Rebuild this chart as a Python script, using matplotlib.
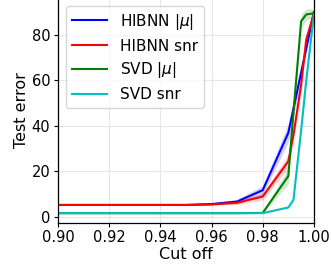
import numpy as np
import matplotlib
matplotlib.use("Agg")
import matplotlib.pyplot as plt

cutoff = [0.90, 0.91, 0.92, 0.93, 0.94, 0.95, 0.96, 0.97, 0.98, 0.99, 0.992, 0.995, 0.997, 1.0]

hibnn_mu = [5.3, 5.3, 5.3, 5.3, 5.3, 5.3, 5.7, 6.8, 11.8, 37.0, 47.5, 63.5, 74.0, 90.0]
hibnn_mu_sd = [0.1, 0.1, 0.1, 0.1, 0.1, 0.1, 0.3, 1.0, 2.0, 4.0, 4.0, 3.0, 2.0, 1.0]

hibnn_snr = [5.3, 5.3, 5.3, 5.3, 5.3, 5.3, 5.5, 6.3, 9.0, 24.5, 36.0, 58.0, 78.0, 89.5]
hibnn_snr_sd = [0.1, 0.1, 0.1, 0.1, 0.1, 0.1, 0.2, 0.8, 1.5, 3.0, 3.0, 2.5, 1.5, 1.0]

svd_mu = [1.7, 1.7, 1.7, 1.7, 1.7, 1.7, 1.7, 1.7, 1.8, 18.0, 46.0, 86.0, 89.0, 89.5]
svd_mu_sd = [0.1, 0.1, 0.1, 0.1, 0.1, 0.1, 0.1, 0.1, 0.3, 3.5, 3.5, 3.0, 2.5, 2.0]

svd_snr = [1.7, 1.7, 1.7, 1.7, 1.7, 1.7, 1.7, 1.7, 1.7, 4.2, 7.5, 38.0, 60.0, 89.0]
svd_snr_sd = [0.1, 0.1, 0.1, 0.1, 0.1, 0.1, 0.1, 0.1, 0.1, 0.3, 0.4, 0.8, 0.8, 0.5]

series = [
    ("HIBNN $|\\mu|$", hibnn_mu, hibnn_mu_sd, "b"),
    ("HIBNN snr", hibnn_snr, hibnn_snr_sd, "r"),
    ("SVD $|\\mu|$", svd_mu, svd_mu_sd, "g"),
    ("SVD snr", svd_snr, svd_snr_sd, "c"),
]

fig = plt.figure(figsize=(3.31, 2.65), dpi=100)
ax = fig.add_axes([0.175, 0.1596, 0.7734, 0.852])

x = np.array(cutoff)
for label, m, s, c in series:
    m = np.array(m); s = np.array(s)
    ax.plot(x, m, color=c, lw=1.5, label=label)
    ax.fill_between(x, m - s, m + s, color=c, alpha=0.18, lw=0)

ax.set_xlim(0.90, 1.00)
ax.set_ylim(-2.5, 96.7)
ax.set_xticks([0.90, 0.92, 0.94, 0.96, 0.98, 1.00])
ax.set_xticklabels(["0.90", "0.92", "0.94", "0.96", "0.98", "1.00"])
ax.set_yticks([0, 20, 40, 60, 80])
ax.grid(True, color="#e6e6e6", lw=0.8)
ax.set_axisbelow(True)
ax.tick_params(labelsize=10.5, length=3, width=0.8, pad=2.5)
ax.set_xlabel("Cut off", fontsize=11.5, labelpad=1)
ax.set_ylabel("Test error", fontsize=11.5, labelpad=2)
for sp in ax.spines.values():
    sp.set_color("black")
    sp.set_linewidth(0.9)

leg = ax.legend(loc="upper left", fontsize=11, handlelength=2.3,
                bbox_to_anchor=(0.02, 0.975), borderaxespad=0.2,
                labelspacing=0.45, framealpha=0.8, edgecolor="#cccccc")

fig.savefig("out.png", dpi=100)
